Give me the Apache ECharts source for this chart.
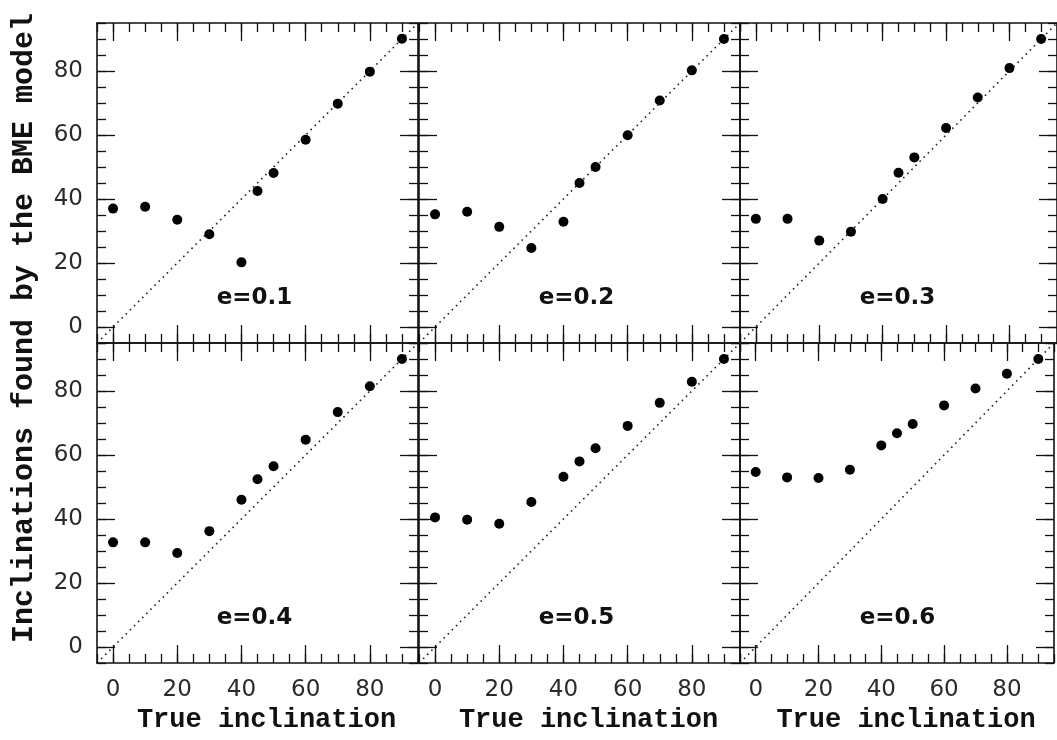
<!DOCTYPE html>
<html>
<head>
<meta charset="utf-8">
<script src="https://cdn.jsdelivr.net/npm/echarts@6/dist/echarts.min.js"></script>
<style>
  html, body { margin: 0; padding: 0; background: #fff; }
  #chart { width: 1057px; height: 740px; }
</style>
</head>
<body>
<div id="chart"></div>
<script>
// True inclination of the models (degrees)
const trueIncl = [0, 10, 20, 30, 40, 45, 50, 60, 70, 80, 90];

// Inclination recovered by the BME model, one list per eccentricity
const fitE01 = [37.0, 37.6, 33.5, 29.0, 20.2, 42.5, 48.1, 58.5, 69.8, 79.8, 90.1];
const fitE02 = [35.2, 36.0, 31.3, 24.7, 32.9, 45.0, 50.0, 59.9, 70.8, 80.2, 90.0];
const fitE03 = [33.8, 33.8, 27.0, 29.8, 40.0, 48.2, 53.0, 62.2, 71.7, 80.9, 90.0];
const fitE04 = [32.7, 32.7, 29.4, 36.2, 46.0, 52.4, 56.5, 64.8, 73.4, 81.5, 90.0];
const fitE05 = [40.5, 39.8, 38.5, 45.3, 53.2, 58.0, 62.1, 69.1, 76.3, 82.9, 90.0];
const fitE06 = [54.7, 53.0, 52.8, 55.4, 63.0, 66.8, 69.7, 75.5, 80.8, 85.4, 90.0];

const panelLabels = ['e=0.1', 'e=0.2', 'e=0.3', 'e=0.4', 'e=0.5', 'e=0.6'];
const panelSeries = [fitE01, fitE02, fitE03, fitE04, fitE05, fitE06];

// Axis extent, labelled (major) ticks and the one-to-one reference line
const axisMin = -5;
const axisMax = 95;
const minorStep = 5;
const majorTicks = [0, 20, 40, 60, 80];
const identityLine = [[-5, -5], [95, 95]];

const xTitle = 'True inclination';
const yTitle = 'Inclinations found by the BME model';

// ---- layout ----
const colLeft = [97, 419, 740];
const colWidth = 321;
const rowTop = [23, 343];
const rowHeight = 320;

const INK = '#111';
const tickFont = { fontFamily: 'DejaVu Sans', fontSize: 23, color: '#2a2a2a', fontWeight: 'normal' };
const titleFont = { fontFamily: 'Liberation Mono', fontWeight: 'bold', color: '#111' };

const grids = [], xAxes = [], yAxes = [], series = [], graphics = [];

function axisBase(gridIndex, position) {
  return {
    type: 'value', gridIndex, position,
    min: axisMin, max: axisMax,
    splitLine: { show: false },
    axisLine: { onZero: false, show: false },
    axisLabel: { show: false },
    axisTick: { show: false }
  };
}

// frame side with a tick every 5 degrees (and the numeric labels)
function minorAxis(gridIndex, position, withLabels, dim) {
  const a = axisBase(gridIndex, position);
  a.interval = minorStep;
  a.axisLine = { show: true, onZero: false, lineStyle: { color: INK, width: 1.6 } };
  a.axisTick = { show: true, inside: true, length: 9, lineStyle: { color: INK, width: 1.3 } };
  if (withLabels) {
    a.axisLabel = Object.assign({
      show: true,
      margin: dim === 'x' ? 16 : 14,
      showMinLabel: true, showMaxLabel: true,
      formatter: v => (majorTicks.indexOf(v) >= 0 ? String(v) : '')
    }, tickFont);
  }
  return a;
}

// overlay carrying only the long ticks at the labelled values
function majorAxis(gridIndex, position) {
  const a = axisBase(gridIndex, position);
  a.axisTick = {
    show: true, inside: true, length: 18,
    customValues: majorTicks,
    lineStyle: { color: INK, width: 1.3 }
  };
  return a;
}

for (let i = 0; i < 6; i++) {
  const r = Math.floor(i / 3), c = i % 3;
  grids.push({ left: colLeft[c], top: rowTop[r], width: colWidth, height: rowHeight, containLabel: false });

  const xi = xAxes.length;
  const xb = minorAxis(i, 'bottom', r === 1, 'x');
  if (r === 1) {
    xb.name = xTitle;
    xb.nameLocation = 'middle';
    xb.nameGap = 44;
    xb.nameTextStyle = Object.assign({ fontSize: 27, padding: [0, 0, 0, 18] }, titleFont);
  }
  xAxes.push(xb, minorAxis(i, 'top', false, 'x'), majorAxis(i, 'bottom'), majorAxis(i, 'top'));

  const yi = yAxes.length;
  yAxes.push(minorAxis(i, 'left', c === 0, 'y'), minorAxis(i, 'right', false, 'y'),
             majorAxis(i, 'left'), majorAxis(i, 'right'));

  series.push({
    type: 'line', xAxisIndex: xi, yAxisIndex: yi,
    data: identityLine, symbol: 'none', silent: true, clip: true,
    lineStyle: { color: '#222', width: 1.6, type: [1.6, 4.2] }
  });
  series.push({
    type: 'scatter', xAxisIndex: xi, yAxisIndex: yi,
    data: trueIncl.map((x, k) => [x, panelSeries[i][k]]),
    symbol: 'circle', symbolSize: 10,
    itemStyle: { color: '#000', opacity: 1 }
  });

  graphics.push({
    type: 'text',
    x: colLeft[c] + colWidth / 2 - 3,
    y: rowTop[r] + 275,
    style: {
      text: panelLabels[i],
      fontFamily: 'DejaVu Sans', fontWeight: 'bold', fontSize: 23,
      fill: '#111', align: 'center', verticalAlign: 'middle'
    }
  });
}

graphics.push({
  type: 'text',
  x: 24, y: 328,
  rotation: Math.PI / 2,
  style: {
    text: yTitle,
    fontFamily: 'Liberation Mono', fontWeight: 'bold', fontSize: 30,
    fill: '#111', align: 'center', verticalAlign: 'middle'
  }
});

const chart = echarts.init(document.getElementById('chart'), null, { renderer: 'canvas' });
chart.setOption({
  animation: false,
  backgroundColor: '#fff',
  grid: grids,
  xAxis: xAxes,
  yAxis: yAxes,
  series: series,
  graphic: graphics
});
</script>
</body>
</html>
